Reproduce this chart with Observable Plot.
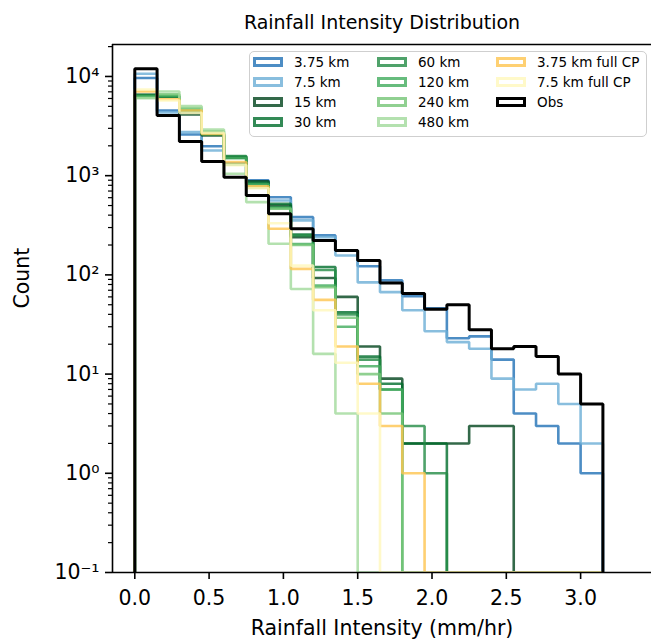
<!DOCTYPE html>
<html><head><meta charset="utf-8">
<script src="https://cdn.jsdelivr.net/npm/d3@7"></script>
<script src="https://cdn.jsdelivr.net/npm/@observablehq/plot@0.6"></script>
<style>
body{margin:0;background:#fff;font-family:"DejaVu Sans",sans-serif;}
#wrap{position:relative;width:651px;height:642px;overflow:hidden;}
#legend{position:absolute;left:249px;top:51px;width:398px;height:86px;border:1.5px solid #cfcfcf;border-radius:5px;background:rgba(255,255,255,0.8);box-sizing:border-box;}
.item{position:absolute;height:20px;display:flex;align-items:center;font-size:13.5px;color:#000;white-space:nowrap;}
.sw{width:24px;height:4px;border:3px solid;margin-right:11px;box-sizing:content-box;}
</style>
</head><body>
<div id="wrap"><div id="legend"></div></div>
<script>
// Bin edges (mm/hr)
const binEdges = [0, 0.15, 0.3, 0.45, 0.6, 0.75, 0.9, 1.05, 1.2, 1.35, 1.5, 1.65, 1.8, 1.95, 2.1, 2.25, 2.4, 2.55, 2.7, 2.85, 3.0, 3.15];

// Counts per bin (21 bins)
const km3_75 = [9660, 4540, 2600, 1980, 1330, 900, 607, 382, 250, 176, 122, 88, 61, 46, 23, 24, 14, 4, 3, 2, 1];
const km7_5  = [10650, 4330, 2750, 1795, 1290, 850, 562, 354, 240, 157, 84, 67, 44, 27, 21, 18, 9, 7, 8, 5, 2];
const km15   = [6540, 6280, 4140, 2540, 1515, 880, 500, 240, 93, 60, 19, 9, 2, 2, 2, 3, 3, 0, 0, 0, 0];
const km30   = [6500, 6300, 4450, 2600, 1560, 850, 521, 255, 120, 42, 15, 8, 2, 2, 0, 0, 0, 0, 0, 0, 0];
const km60   = [6450, 6250, 4500, 2620, 1575, 830, 480, 250, 112, 40, 14, 7, 3, 1, 0, 0, 0, 0, 0, 0, 0];
const km120  = [6300, 6400, 4600, 2700, 1500, 815, 470, 205, 78, 30, 12, 7, 0, 0, 0, 0, 0, 0, 0, 0, 0];
const km240  = [6100, 6600, 4800, 2800, 1300, 760, 464, 200, 75, 37, 10, 4, 0, 0, 0, 0, 0, 0, 0, 0, 0];
const km480  = [6040, 7060, 5020, 2920, 1045, 541, 206, 72, 16, 4, 0, 0, 0, 0, 0, 0, 0, 0, 0, 0, 0];
const cp3_75 = [7060, 5900, 4540, 2640, 1370, 780, 292, 115, 56, 19, 8, 3, 1, 0, 0, 0, 0, 0, 0, 0, 0];
const cp7_5  = [7400, 5730, 4300, 2700, 1277, 748, 332, 124, 44, 13, 4, 0, 0, 0, 0, 0, 0, 0, 0, 0, 0];
const obs    = [11970, 4050, 2210, 1390, 966, 631, 413, 292, 222, 176, 140, 83, 65, 45, 50, 28, 18, 19, 15, 10, 5];

const seriesNames = ["3.75 km", "7.5 km", "15 km", "30 km", "60 km", "120 km", "240 km", "480 km", "3.75 km full CP", "7.5 km full CP", "Obs"];
const seriesColors = ["#2171b5", "#6baed6", "#00441b", "#006d2c", "#238b45", "#41ab5d", "#74c476", "#a1d99b", "#fec44f", "#fff7bc", "#000000"];
const seriesValues = [km3_75, km7_5, km15, km30, km60, km120, km240, km480, cp3_75, cp7_5, obs];

const xTicks = [0, 0.5, 1.0, 1.5, 2.0, 2.5, 3.0];
const yTicks = [0.1, 1, 10, 100, 1000, 10000];
const yTickLabels = ["10\u207B\u00B9", "10\u2070", "10\u00B9", "10\u00B2", "10\u00B3", "10\u2074"];

const titleText = "Rainfall Intensity Distribution";
const xLabel = "Rainfall Intensity (mm/hr)";
const yLabel = "Count";

const xDomain = [-0.150, 3.477];
const yDomain = [0.1, 21000];
const base = yDomain[0];

// minor ticks for log axis
const yMinor = [];
for (let e = -1; e <= 4; e++) for (let k = 2; k <= 9; k++) { const v = k * Math.pow(10, e); if (v < yDomain[1]) yMinor.push(v); }

function stepRows(values) {
  const n = values.length;
  const rows = [{x: binEdges[0], y: base}];
  values.forEach((v, i) => rows.push({x: binEdges[i], y: v > 0 ? v : base}));
  rows.push({x: binEdges[n], y: values[n - 1] > 0 ? values[n - 1] : base});
  rows.push({x: binEdges[n], y: base});
  return rows;
}

const lineMarks = seriesValues.map((vals, i) => {
  const isObs = seriesNames[i] === "Obs";
  return Plot.line(stepRows(vals), {
    x: "x", y: "y", curve: "step-after", clip: true,
    stroke: seriesColors[i], strokeOpacity: isObs ? 1 : 0.8,
    strokeWidth: isObs ? 3 : 2.6, strokeLinejoin: "miter"
  });
});

const labelMap = new Map(yTicks.map((t, i) => [t, yTickLabels[i]]));

const chart = Plot.plot({
  width: 651, height: 642,
  marginLeft: 112, marginRight: 0, marginTop: 44, marginBottom: 70,
  style: {fontFamily: "DejaVu Sans", background: "white", color: "black", overflow: "visible"},
  x: {domain: xDomain, label: null},
  y: {type: "log", domain: yDomain, label: null},
  marks: [
    ...lineMarks,
    Plot.ruleX([xDomain[0]], {stroke: "black", strokeWidth: 1.6}),
    Plot.ruleY([yDomain[0]], {stroke: "black", strokeWidth: 1.6}),
    Plot.ruleY([yDomain[1]], {stroke: "black", strokeWidth: 1.6}),
    Plot.axisX({ticks: xTicks, tickFormat: d3.format(".1f"), tickSize: 7, tickPadding: 11, fontSize: 20.5, strokeWidth: 1.6, label: null}),
    Plot.axisY({ticks: yTicks, tickFormat: d => labelMap.get(d), tickSize: 7, tickPadding: 6, fontSize: 20.5, strokeWidth: 1.6, label: null}),
    Plot.axisY({ticks: yMinor, tickFormat: () => "", tickSize: 4, strokeWidth: 1.2, label: null}),
    Plot.text([titleText], {frameAnchor: "top", dy: -29, fontSize: 19, fill: "black"}),
    Plot.text([xLabel], {frameAnchor: "bottom", dy: 62, fontSize: 20.5, fill: "black"}),
    Plot.text([yLabel], {frameAnchor: "left", dx: -90, rotate: -90, fontSize: 20.5, fill: "black"})
  ]
});
document.getElementById("wrap").prepend(chart);

// Legend (3 columns, inside upper right)
const legend = document.getElementById("legend");
const colLeft = [3, 127, 246];
const rowCenter = [10, 30, 50, 70];
const layout = [[0,0],[0,1],[0,2],[0,3],[1,0],[1,1],[1,2],[1,3],[2,0],[2,1],[2,2]];
seriesNames.forEach((name, i) => {
  const [c, r] = layout[i];
  const it = document.createElement("div");
  it.className = "item";
  it.style.left = colLeft[c] + "px";
  it.style.top = (rowCenter[r] - 10) + "px";
  const sw = document.createElement("span");
  sw.className = "sw";
  sw.style.borderColor = seriesColors[i];
  sw.style.opacity = name === "Obs" ? 1 : 0.8;
  const tx = document.createElement("span");
  tx.textContent = name;
  it.appendChild(sw); it.appendChild(tx);
  legend.appendChild(it);
});
</script>
</body></html>
